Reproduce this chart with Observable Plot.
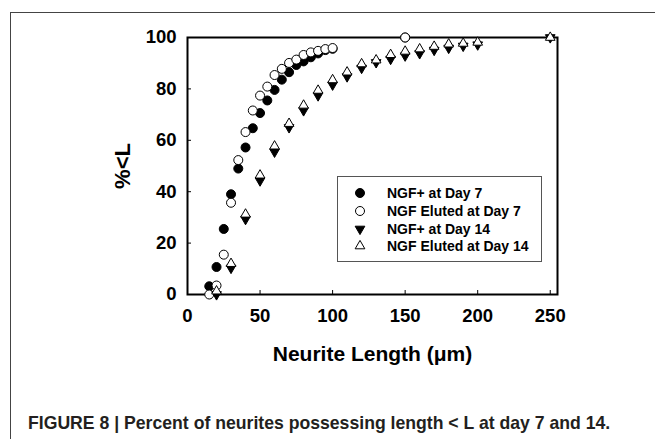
<!DOCTYPE html>
<html>
<head>
<meta charset="utf-8">
<script src="https://cdn.jsdelivr.net/npm/d3@7"></script>
<script src="https://cdn.jsdelivr.net/npm/@observablehq/plot@0.6"></script>
<style>
  html, body { margin: 0; padding: 0; background: #fff; }
  body { width: 655px; height: 439px; position: relative; overflow: hidden; font-family: "Liberation Sans", Arial, sans-serif; }
  #outer { position: absolute; left: 10px; top: 12px; width: 700px; height: 500px; border-left: 1px solid #444; border-top: 1px solid #444; }
  #chart { position: absolute; left: 0; top: 0; }
  #legend { position: absolute; left: 337px; top: 176px; width: 203px; height: 84px; border: 1px solid #555; background: #fff; }
  .row { position: absolute; left: 0; height: 18px; display: flex; align-items: center; }
  .row svg { position: absolute; left: 15px; }
  .row span { position: absolute; left: 49px; white-space: nowrap; font-weight: bold; font-size: 14px; color: #000; }
  #caption { position: absolute; left: 28px; top: 412px; font-family: "Liberation Sans", Arial, sans-serif; font-weight: bold; font-size: 19px; line-height: 22px; color: #231f20; white-space: nowrap; transform: scaleX(0.928); transform-origin: 0 0; }
</style>
</head>
<body>
<div id="outer"></div>
<div id="chart"></div>
<div id="legend"></div>
<div id="caption">FIGURE 8 | Percent of neurites possessing length &lt; L at day 7 and 14.</div>
<script>
// ---- data ----
const lengthsDay7 = [15, 20, 25, 30, 35, 40, 45, 50, 55, 60, 65, 70, 75, 80, 85, 90, 95, 100, 150];
const ngfPlusDay7 = [3.2, 10.7, 25.5, 39, 49, 57.2, 64.7, 70.6, 75.5, 79.6, 83.6, 86.5, 89.3, 90.7, 92.3, 93.8, 95.1, 95.6, 100];
const ngfElutedDay7 = [0, 3.5, 15.5, 35.7, 52.3, 63.2, 71.6, 77.4, 80.9, 85.4, 87.8, 90.1, 91.4, 93.2, 94.2, 94.8, 95.5, 95.9, 100];
const lengthsDay14 = [20, 30, 40, 50, 60, 70, 80, 90, 100, 110, 120, 130, 140, 150, 160, 170, 180, 190, 200, 250];
const ngfPlusDay14 = [0, 10.3, 29.3, 44.3, 55.5, 65, 71.6, 77.4, 81.6, 84.8, 88.1, 90.3, 91.6, 92.9, 93.8, 95.1, 95.9, 96.7, 97.2, 100];
const ngfElutedDay14 = [1.3, 12, 31.2, 46.4, 57.7, 66.5, 73.6, 79.4, 83.5, 86.5, 89.7, 91.2, 93.3, 94.6, 95.5, 96.5, 97.4, 97.7, 98.1, 100];
const seriesNames = ["NGF+ at Day 7", "NGF Eluted at Day 7", "NGF+ at Day 14", "NGF Eluted at Day 14"];
const xTicks = [0, 50, 100, 150, 200, 250];
const yTicks = [0, 20, 40, 60, 80, 100];
const xTitle = "Neurite Length (\u03bcm)";
const yTitle = "%<L";

const toRows = (xs, ys) => xs.map((x, i) => ({x, y: ys[i]}));
const s1 = toRows(lengthsDay7, ngfPlusDay7);
const s2 = toRows(lengthsDay7, ngfElutedDay7);
const s3 = toRows(lengthsDay14, ngfPlusDay14);
const s4 = toRows(lengthsDay14, ngfElutedDay14);

const styles = [
  {symbol: "circle", r: 4.5, fill: "black", stroke: "black", rotate: 0},
  {symbol: "circle", r: 4.5, fill: "white", stroke: "black", rotate: 0},
  {symbol: "triangle", r: 3.6, fill: "black", stroke: "black", rotate: 180},
  {symbol: "triangle", r: 3.6, fill: "white", stroke: "black", rotate: 0}
];

const dots = [s1, s2, s3, s4].map((d, i) => Plot.dot(d, {x: "x", y: "y", ...styles[i], strokeWidth: 1}));

const chart = Plot.plot({
  width: 655,
  height: 380,
  marginLeft: 187,
  marginRight: 98,
  marginTop: 37,
  marginBottom: 86,
  style: {fontFamily: "Liberation Sans, Arial, sans-serif", fontWeight: "bold", color: "black", background: "transparent", overflow: "visible"},
  x: {domain: [0, 255]},
  y: {domain: [0, 100]},
  marks: [
    Plot.axisX(xTicks, {tickSize: -4, tickPadding: 18, fontSize: 18.5, fontWeight: "bold", label: null, stroke: "black"}),
    Plot.axisY(yTicks, {tickSize: -4, tickPadding: 15, fontSize: 18.5, fontWeight: "bold", label: null, stroke: "black"}),
    Plot.frame({stroke: "black", strokeWidth: 2}),
    Plot.text([xTitle], {frameAnchor: "bottom", dy: 66, fontSize: 21, fontWeight: "bold", fill: "black"}),
    Plot.text([yTitle], {frameAnchor: "left", textAnchor: "middle", dx: -65, rotate: -90, fontSize: 22, fontWeight: "bold", fill: "black"}),
    ...dots
  ]
});
document.getElementById("chart").appendChild(chart);

// legend
const legend = document.getElementById("legend");
const rowTops = [7, 25, 43, 60];
seriesNames.forEach((name, i) => {
  const row = document.createElement("div");
  row.className = "row";
  row.style.top = rowTops[i] + "px";
  const st = styles[i];
  const sym = d3.symbol(st.symbol === "circle" ? d3.symbolCircle : d3.symbolTriangle, Math.PI * st.r * st.r)();
  row.innerHTML = `<svg width="14" height="18" viewBox="-7 -9 14 18"><path d="${sym}" fill="${st.fill}" stroke="${st.stroke}" stroke-width="1" transform="rotate(${st.rotate})"/></svg><span>${name}</span>`;
  legend.appendChild(row);
});
</script>
</body>
</html>
